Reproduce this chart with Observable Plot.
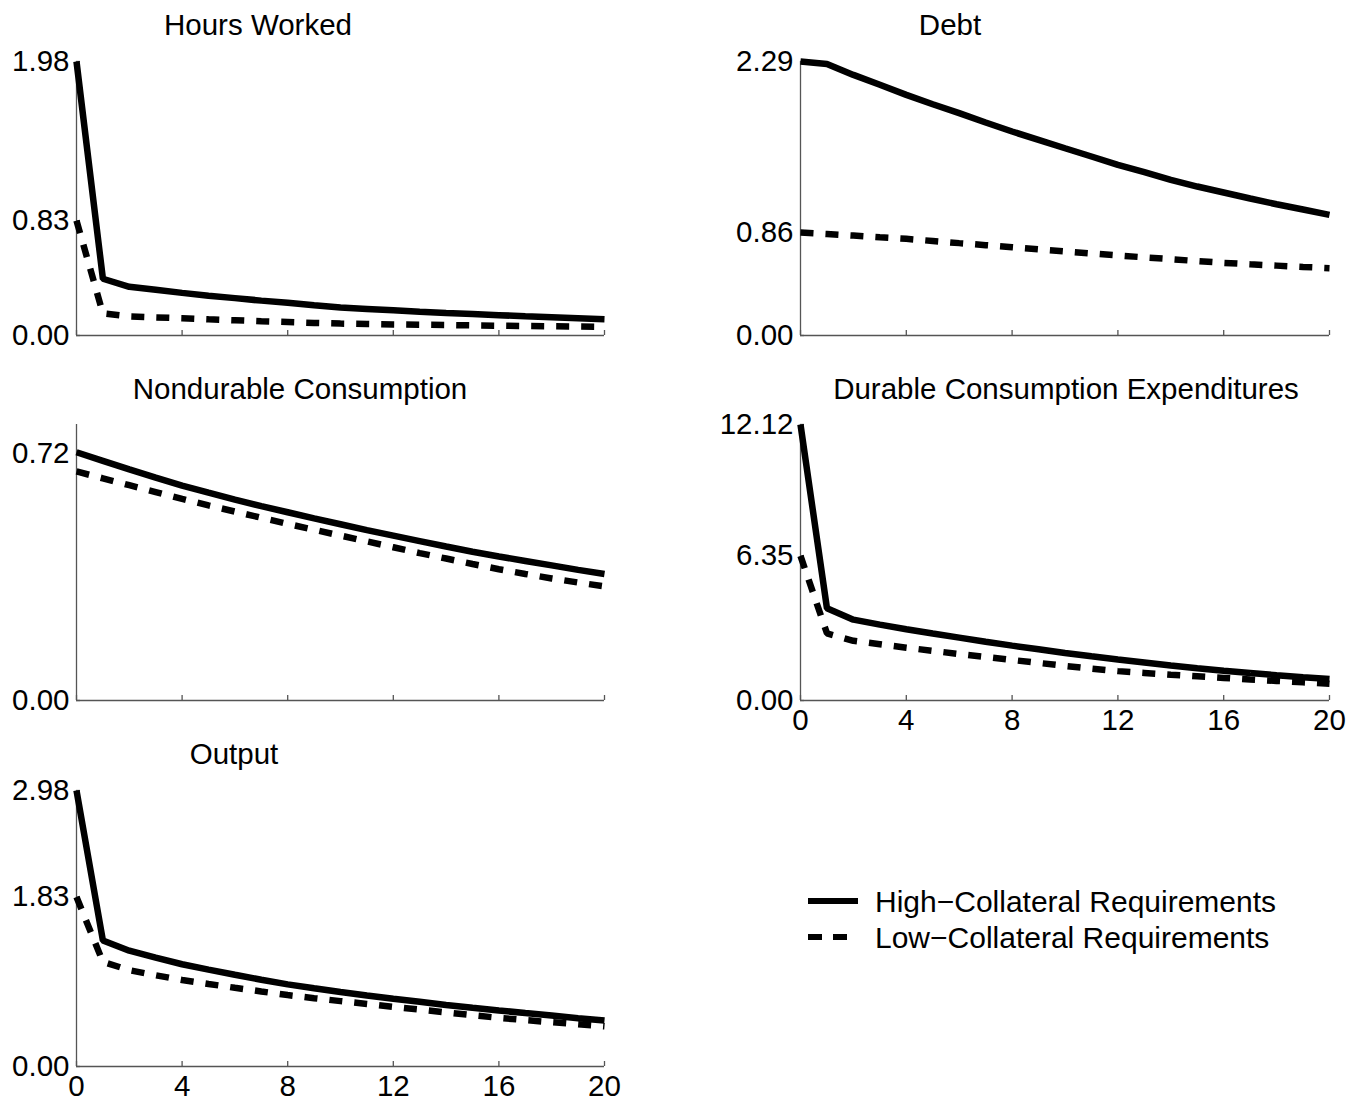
<!DOCTYPE html>
<html>
<head>
<meta charset="utf-8">
<script src="https://cdn.jsdelivr.net/npm/d3@7"></script>
<script src="https://cdn.jsdelivr.net/npm/@observablehq/plot@0.6"></script>
<style>
  html, body { margin: 0; padding: 0; background: #fff; }
  #chart { position: relative; width: 1365px; height: 1103px; background: #fff; overflow: hidden;
           font-family: "Liberation Sans", Arial, Helvetica, sans-serif; color: #000; }
  .panel { position: absolute; }
  .ptitle { position: absolute; transform: translate(-50%, -50%); font-size: 29.5px; white-space: nowrap; }
  .legend { position: absolute; }
</style>
</head>
<body>
<div id="chart"></div>
<script>
// ---------- data ----------
const periods = [0,1,2,3,4,5,6,7,8,9,10,11,12,13,14,15,16,17,18,19,20];
const seriesNames = ["High\u2212Collateral Requirements", "Low\u2212Collateral Requirements"];

const hoursHigh = [1.98,0.41,0.352,0.330,0.308,0.288,0.270,0.252,0.236,0.218,0.202,0.192,0.182,0.172,0.163,0.155,0.147,0.139,0.132,0.125,0.118];
const hoursLow  = [0.83,0.16,0.138,0.131,0.125,0.117,0.110,0.103,0.097,0.091,0.086,0.083,0.080,0.078,0.076,0.073,0.071,0.069,0.067,0.065,0.063];

const debtHigh = [2.29,2.27,2.178,2.095,2.011,1.933,1.858,1.780,1.705,1.635,1.565,1.496,1.426,1.365,1.301,1.245,1.195,1.145,1.097,1.053,1.008];
const debtLow  = [0.86,0.848,0.835,0.821,0.808,0.790,0.772,0.755,0.738,0.720,0.703,0.686,0.669,0.653,0.638,0.622,0.607,0.595,0.584,0.573,0.563];

const nondurHigh = [0.724,0.699,0.674,0.650,0.627,0.606,0.586,0.567,0.549,0.531,0.514,0.497,0.481,0.465,0.449,0.434,0.420,0.407,0.394,0.381,0.369];
const nondurLow  = [0.668,0.648,0.628,0.608,0.588,0.569,0.551,0.533,0.515,0.498,0.481,0.464,0.447,0.430,0.414,0.398,0.383,0.369,0.356,0.344,0.333];

const durableHigh = [12.12,4.05,3.55,3.33,3.13,2.94,2.76,2.58,2.41,2.25,2.09,1.94,1.80,1.67,1.54,1.42,1.31,1.21,1.11,1.02,0.94];
const durableLow  = [6.35,2.95,2.62,2.47,2.32,2.18,2.04,1.91,1.78,1.65,1.52,1.40,1.29,1.21,1.13,1.06,0.99,0.92,0.86,0.80,0.74];

const outputHigh = [2.98,1.36,1.25,1.175,1.104,1.046,0.99,0.937,0.887,0.845,0.805,0.767,0.731,0.698,0.665,0.634,0.605,0.577,0.55,0.522,0.496];
const outputLow  = [1.83,1.13,1.04,0.985,0.934,0.891,0.85,0.81,0.771,0.738,0.706,0.675,0.644,0.614,0.584,0.554,0.525,0.501,0.478,0.456,0.434];

// tick labels
const xTicks = [0,4,8,12,16,20];
const hoursTicks   = [0, 0.83, 1.98];
const debtTicks    = [0, 0.86, 2.29];
const nondurTicks  = [0, 0.72];
const durableTicks = [0, 6.35, 12.12];
const outputTicks  = [0, 1.83, 2.98];

const titles = ["Hours Worked", "Debt", "Nondurable Consumption", "Durable Consumption Expenditures", "Output"];

// ---------- layout ----------
const colLeft = [76, 800];
const colWidth = [528, 529];
const rowTop = [61, 424, 790];
const rowHeight = [274, 276, 276];
const titleY = [25, 389, 754];

const panels = [
  {title: titles[0], high: hoursHigh,   low: hoursLow,   ticks: hoursTicks,   ymax: 1.98,  col: 0, row: 0, tx: 258,  xlabels: false},
  {title: titles[1], high: debtHigh,    low: debtLow,    ticks: debtTicks,    ymax: 2.29,  col: 1, row: 0, tx: 950,  xlabels: false},
  {title: titles[2], high: nondurHigh,  low: nondurLow,  ticks: nondurTicks,  ymax: 0.805, col: 0, row: 1, tx: 300,  xlabels: false},
  {title: titles[3], high: durableHigh, low: durableLow, ticks: durableTicks, ymax: 12.12, col: 1, row: 1, tx: 1066, xlabels: true},
  {title: titles[4], high: outputHigh,  low: outputLow,  ticks: outputTicks,  ymax: 2.98,  col: 0, row: 2, tx: 234,  xlabels: true}
];

const axisColor = "#555";
const fontFamily = "'Liberation Sans', Arial, Helvetica, sans-serif";
const chart = document.getElementById("chart");

for (const p of panels) {
  const ml = 90, mr = 14, mt = 6, mb = 44;
  const w = colWidth[p.col], h = rowHeight[p.row];
  const highData = periods.map((t, i) => ({t, v: p.high[i], s: seriesNames[0]}));
  const lowData  = periods.map((t, i) => ({t, v: p.low[i],  s: seriesNames[1]}));

  const marks = [
    Plot.ruleX([0], {stroke: axisColor, strokeWidth: 1.3}),
    Plot.ruleY([0], {stroke: axisColor, strokeWidth: 1.3}),
    Plot.tickX(xTicks, {x: d => d, insetTop: h - 5, stroke: axisColor, strokeWidth: 1.3}),
    Plot.tickY(p.ticks, {y: d => d, insetRight: w - 4, stroke: axisColor, strokeWidth: 1.3}),
    Plot.axisY({ticks: p.ticks, tickSize: 0, tickPadding: 7, tickFormat: d => d.toFixed(2), fill: "#000", label: null}),
    Plot.line(highData, {x: "t", y: "v", stroke: "#000", strokeWidth: 6.5, strokeLinejoin: "miter", strokeLinecap: "butt"}),
    Plot.line(lowData, {x: "t", y: "v", stroke: "#000", strokeWidth: 6.5, strokeDasharray: "13,12", strokeLinejoin: "miter", strokeLinecap: "butt"})
  ];
  if (p.xlabels) marks.push(Plot.axisX({ticks: xTicks, tickSize: 0, tickPadding: 9, tickFormat: d => String(d), fill: "#000", label: null}));

  const svg = Plot.plot({
    width: ml + w + mr, height: mt + h + mb,
    marginLeft: ml, marginRight: mr, marginTop: mt, marginBottom: mb,
    x: {domain: [0, 20], axis: null},
    y: {domain: [0, p.ymax], axis: null},
    style: {fontFamily, fontSize: "29.5px", color: "#000", background: "transparent", overflow: "visible"},
    marks
  });
  svg.classList.add("panel");
  svg.style.left = (colLeft[p.col] - ml) + "px";
  svg.style.top = (rowTop[p.row] - mt) + "px";
  chart.appendChild(svg);

  const t = document.createElement("div");
  t.className = "ptitle";
  t.textContent = p.title;
  t.style.left = p.tx + "px";
  t.style.top = titleY[p.row] + "px";
  chart.appendChild(t);
}

// ---------- legend ----------
const lg = d3.create("svg").attr("class", "legend").attr("width", 520).attr("height", 90)
  .style("left", "800px").style("top", "875px");
const legendItems = [{name: seriesNames[0], dash: null}, {name: seriesNames[1], dash: "14,11"}];
legendItems.forEach((d, i) => {
  const y = 26 + i * 36;
  lg.append("line").attr("x1", 8).attr("x2", d.dash ? 48 : 58).attr("y1", y).attr("y2", y)
    .attr("stroke", "#000").attr("stroke-width", 6).attr("stroke-dasharray", d.dash);
  lg.append("text").attr("x", 75).attr("y", y).attr("dy", "0.35em")
    .attr("font-family", fontFamily).attr("font-size", 30).attr("fill", "#000").text(d.name);
});
chart.appendChild(lg.node());
</script>
</body>
</html>
